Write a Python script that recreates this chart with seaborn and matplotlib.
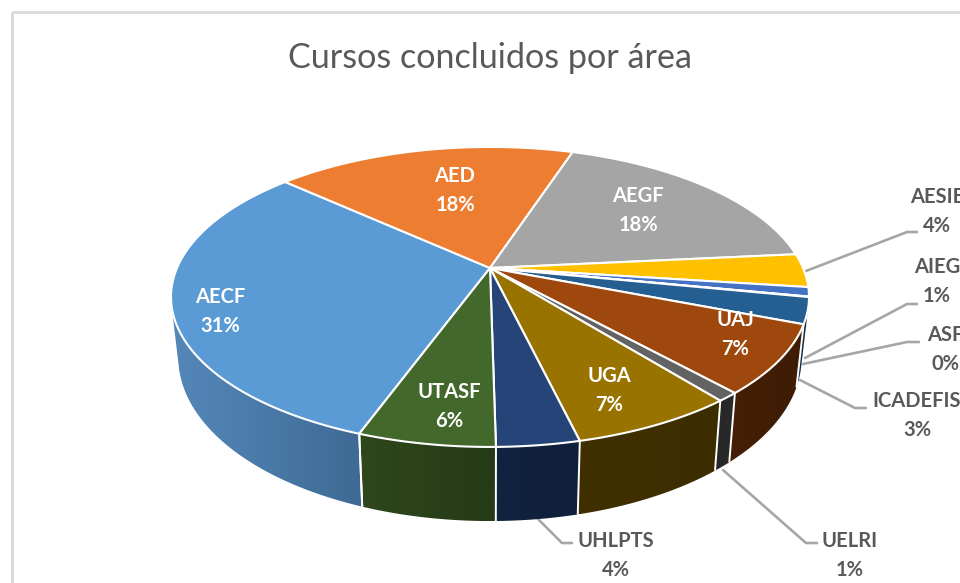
import numpy as np
import matplotlib
matplotlib.use("Agg")
import matplotlib.pyplot as plt
from matplotlib.colors import LinearSegmentedColormap
from matplotlib.patches import Polygon, Rectangle
import seaborn as sns

# ---- data (slice shares as drawn, and printed labels)
categories = ["AECF", "AED", "AEGF", "AESIE", "AIEG", "ASF", "ICADEFIS",
              "UAJ", "UELRI", "UGA", "UHLPTS", "UTASF"]
shares = [31.2, 18.3, 18.4, 3.6, 1.0, 0.05, 2.8, 7.4, 0.95, 7.0, 3.5, 5.8]
percent_labels = ["31%", "18%", "18%", "4%", "1%", "0%", "3%",
                  "7%", "1%", "7%", "4%", "6%"]
title_text = "Cursos concluidos por área"

top_colors = ["#5B9BD5", "#ED7D31", "#A5A5A5", "#FFC000", "#4472C4", "#70AD47",
              "#255E91", "#9E480E", "#636363", "#997300", "#264478", "#43682B"]
side_left = ["#5488BA", "#7d4019", "#555555", "#7f6000", "#223962", "#385723",
             "#123049", "#451f06", "#262626", "#402f00", "#12233f", "#2e471c"]
side_right = ["#3E6A94", "#7d4019", "#555555", "#7f6000", "#223962", "#385723",
              "#0f263c", "#3d1c05", "#2a2a2a", "#3c2d00", "#101f3a", "#263a17"]

label_pos = [(220, 311), (455, 190), (638, 210), (937, 211), (937, 281),
             (945, 349), (917, 415), (735, 334), (850, 555), (609, 390),
             (616, 555), (449, 406)]
inside = ["AECF", "AED", "AEGF", "UAJ", "UGA", "UTASF"]
leaders = {
    "AESIE": [(806, 271), (907, 232), (917, 232)],
    "AIEG": [(805, 358), (907, 304), (917, 304)],
    "ASF": [(803, 364), (907, 342), (919, 342)],
    "ICADEFIS": [(800, 380), (855, 408), (866, 408)],
    "UELRI": [(723, 470), (806, 543), (817, 543)],
    "UHLPTS": [(538, 519), (562, 543), (572, 543)],
}

# ---- projection of the pie disc (pixel layout)
CX, CY = 490.0, 268.0
A, H, K = 313.0, 144.4, 0.193
START = 250.0
SX, SY, DEPTH = 0.977, 1.09, 58.0


def top_xy(theta):
    u, v = np.cos(theta), np.sin(theta)
    w = 1 + K * v
    return CX + A * u / w, CY - H * v / w


def bottom_xy(theta):
    x, y = top_xy(theta)
    return CX + (x - CX) * SX, CY + (y - CY) * SY + DEPTH


def facing(theta):
    # positive where the side wall of the pie faces the viewer
    d = 1e-4
    x0, y0 = top_xy(theta - d)
    x1, y1 = top_xy(theta + d)
    xb, yb = bottom_xy(theta)
    xt, yt = top_xy(theta)
    return (x1 - x0) * (yb - yt) - (y1 - y0) * (xb - xt)


sns.set_theme(style="white")
plt.rcParams["font.family"] = ["Lato", "DejaVu Sans"]
palette = sns.color_palette(top_colors)

fig = plt.figure(figsize=(9.6, 5.83), dpi=100)
ax = fig.add_axes([0, 0, 1, 1])
ax.axis("off")

ax.add_patch(Rectangle((11.5, 11.5), 1000, 700, fill=False, ec="#D9D9D9", lw=2))

edges = START - np.cumsum([0] + shares) * 360.0 / sum(shares)
front_sign = np.sign(facing(np.radians(-90.0)))

# sides first, each a horizontal gradient clipped to its visible outline
gradient = np.linspace(0, 1, 256).reshape(1, -1)
for i, cat in enumerate(categories):
    t = np.radians(np.linspace(edges[i], edges[i + 1], 240))
    t = t[np.sign(facing(t)) == front_sign]
    if len(t) < 2:
        continue
    xt, yt = top_xy(t)
    xb, yb = bottom_xy(t)
    outline = np.vstack([np.column_stack([xt, yt]),
                         np.column_stack([xb, yb])[::-1]])
    cmap = LinearSegmentedColormap.from_list(cat, [side_left[i], side_right[i]])
    im = ax.imshow(gradient, cmap=cmap, aspect="auto", zorder=2,
                   interpolation="bilinear",
                   extent=(outline[:, 0].min(), outline[:, 0].max(),
                           outline[:, 1].max(), outline[:, 1].min()))
    clip = Polygon(outline, closed=True, transform=ax.transData)
    im.set_clip_path(clip)

ax.set_xlim(0, 960)
ax.set_ylim(583, 0)

# white separators on the visible side
for e in edges:
    th = np.radians(e)
    if np.sin(th) < -0.25:
        xa, ya = top_xy(th)
        xc, yc = bottom_xy(th)
        ax.plot([xa, xc], [ya, yc], color="white", lw=1.4, zorder=3,
                solid_capstyle="butt")

# top surface
for i, cat in enumerate(categories):
    t = np.radians(np.linspace(edges[i], edges[i + 1], 120))
    xt, yt = top_xy(t)
    pts = [(CX, CY)] + list(zip(xt, yt))
    ax.add_patch(Polygon(pts, closed=True, fc=palette[i], ec="white", lw=1.5,
                         joinstyle="round", zorder=4))

# leaders
for cat, pts in leaders.items():
    xs, ys = zip(*pts)
    ax.plot(xs, ys, color="#A6A6A6", lw=1.9, zorder=1.5)

# labels
for cat, pct, (x, y) in zip(categories, percent_labels, label_pos):
    col = "white" if cat in inside else "#595959"
    ax.text(x, y - 14, cat, ha="center", va="center", fontsize=14.5,
            fontweight="bold", color=col, zorder=6)
    ax.text(x, y + 15, pct, ha="center", va="center", fontsize=14.5,
            fontweight="bold", color=col, zorder=6)

ax.text(490, 57.5, title_text, ha="center", va="center", fontsize=24.6,
        color="#595959", zorder=6)

fig.savefig("out.png", dpi=100)
